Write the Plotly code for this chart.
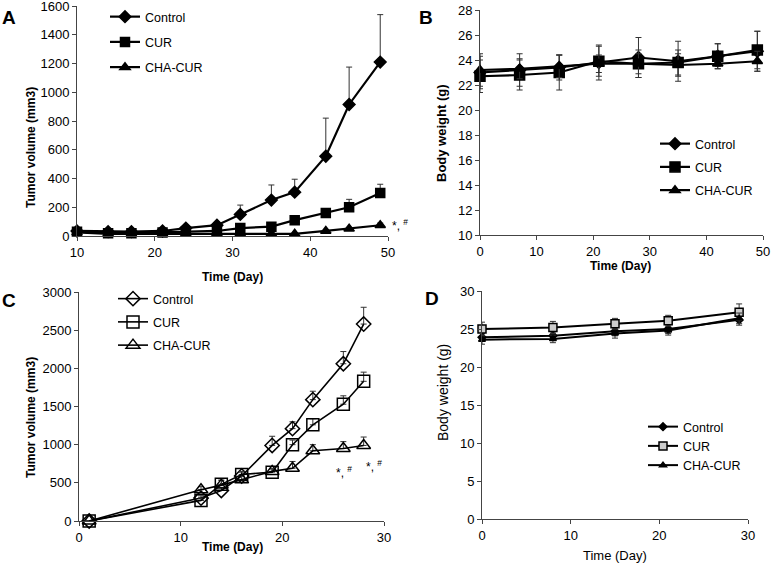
import plotly.graph_objects as go

W, H = 771, 564
series_names = ["Control", "CUR", "CHA-CUR"]

# Panel A: tumor volume
a_days = [10, 14, 17, 21, 24, 28, 31, 35, 38, 42, 45, 49]
a_control = [35, 30, 30, 35, 55, 75, 150, 250, 305, 555, 915, 1210]
a_control_err = [5, 5, 5, 5, 10, 15, 65, 105, 90, 265, 260, 330]
a_cur = [30, 20, 20, 25, 30, 35, 55, 65, 110, 160, 200, 300]
a_cur_err = [3, 3, 3, 3, 5, 5, 8, 10, 15, 20, 55, 60]
a_cha = [25, 15, 15, 15, 15, 15, 15, 15, 15, 35, 50, 75]
a_cha_err = [2, 2, 2, 2, 2, 2, 2, 2, 3, 5, 8, 15]

# Panel B: body weight
b_days = [0, 7, 14, 21, 28, 35, 42, 49]
b_control = [23.0, 23.2, 23.4, 23.8, 24.2, 23.9, 24.3, 24.7]
b_control_err = [1.3, 1.3, 1.0, 1.4, 1.6, 1.6, 1.0, 1.6]
b_cur = [22.7, 22.8, 23.0, 23.9, 23.7, 23.8, 24.3, 24.8]
b_cur_err = [1.3, 1.2, 1.4, 1.2, 1.1, 1.0, 1.0, 1.5]
b_cha = [23.2, 23.3, 23.5, 23.7, 23.7, 23.6, 23.7, 23.9]
b_cha_err = [1.3, 0.8, 0.9, 0.7, 0.8, 0.9, 0.2, 0.8]

# Panel C: tumor volume
c_days = [1, 12, 14, 16, 19, 21, 23, 26, 28]
c_control = [0, 300, 400, 590, 990, 1210, 1590, 2060, 2580]
c_control_err = [0, 30, 40, 50, 120, 90, 110, 160, 220]
c_cur = [0, 270, 480, 610, 640, 1000, 1260, 1530, 1830]
c_cur_err = [0, 30, 70, 40, 40, 60, 80, 110, 120]
c_cha = [0, 410, 470, 540, 650, 690, 920, 950, 990]
c_cha_err = [0, 40, 60, 50, 40, 90, 80, 90, 110]

# Panel D: body weight
d_days = [0, 8, 15, 21, 29]
d_control = [23.9, 24.1, 24.7, 25.0, 26.2]
d_control_err = [0.5, 0.5, 0.6, 0.6, 0.7]
d_cur = [25.0, 25.2, 25.7, 26.1, 27.2]
d_cur_err = [0.9, 0.8, 0.7, 0.7, 1.1]
d_cha = [23.6, 23.7, 24.4, 24.8, 26.4]
d_cha_err = [0.6, 0.5, 0.6, 0.6, 0.7]

FONT = "Liberation Sans, Arial, sans-serif"


def px_x(p):
    return p / W


def px_y(p):
    return 1 - p / H


fig = go.Figure()


def add(x, y, err, name, sym, size, xa, ya, leg, sym_err=False, lw=2.2, errcol="#333333", mcol="black"):
    ey = dict(type="data", array=err, color=errcol, thickness=1, width=3, visible=True)
    if sym_err:
        ey["symmetric"] = True
    else:
        ey["symmetric"] = False
        ey["arrayminus"] = [0] * len(err)
    fig.add_trace(go.Scatter(
        x=x, y=y, name=name, mode="lines+markers",
        line=dict(color="black", width=lw),
        marker=dict(symbol=sym, size=size, color=mcol,
                    line=dict(color="black", width=1.5)),
        error_y=ey, xaxis=xa, yaxis=ya, legend=leg, legendgroup=leg + name,
        cliponaxis=False,
    ))


# A
add(a_days, a_control, a_control_err, "Control", "diamond", 9, "x", "y", "legend")
add(a_days, a_cur, a_cur_err, "CUR", "square", 9, "x", "y", "legend")
add(a_days, a_cha, a_cha_err, "CHA-CUR", "triangle-up", 9, "x", "y", "legend")
# B
add(b_days, b_control, b_control_err, "Control", "diamond", 9, "x2", "y2", "legend2", sym_err=True)
add(b_days, b_cur, b_cur_err, "CUR", "square", 10, "x2", "y2", "legend2", sym_err=True)
add(b_days, b_cha, b_cha_err, "CHA-CUR", "triangle-up", 9, "x2", "y2", "legend2", sym_err=True)
# C
add(c_days, c_control, c_control_err, "Control", "diamond-open", 11, "x3", "y3", "legend3", lw=1.6)
add(c_days, c_cur, c_cur_err, "CUR", "square-open", 12, "x3", "y3", "legend3", lw=1.6)
add(c_days, c_cha, c_cha_err, "CHA-CUR", "triangle-up-open", 12, "x3", "y3", "legend3", lw=1.6)
# D
add(d_days, d_control, d_control_err, "Control", "diamond", 6, "x4", "y4", "legend4", sym_err=True, lw=2)
add(d_days, d_cur, d_cur_err, "CUR", "square", 8, "x4", "y4", "legend4", sym_err=True, lw=2, mcol="#cccccc")
add(d_days, d_cha, d_cha_err, "CHA-CUR", "triangle-up", 6, "x4", "y4", "legend4", sym_err=True, lw=2)


def axis(dom, rng, dtick, anchor, fsize=13):
    return dict(domain=dom, range=rng, dtick=dtick, anchor=anchor, showgrid=False, zeroline=False,
                showline=True, linecolor="#444444", linewidth=1, ticks="outside", ticklen=4,
                tickcolor="#444444", automargin=False, ticklabeloverflow="allow",
                tickfont=dict(family=FONT, size=fsize, color="black"))


def legend(xp, yp, gap, fsize=12.5):
    return dict(x=px_x(xp), y=px_y(yp), xanchor="left", yanchor="top", bgcolor="rgba(0,0,0,0)",
                font=dict(family=FONT, size=fsize, color="black"), traceorder="grouped",
                tracegroupgap=gap, itemwidth=30)


fig.update_layout(
    width=W, height=H, margin=dict(l=0, r=0, t=0, b=0, autoexpand=False),
    paper_bgcolor="white", plot_bgcolor="white", showlegend=True,
    xaxis=axis([px_x(77), px_x(388)], [10, 50], 10, "y"),
    yaxis=axis([px_y(236), px_y(6)], [0, 1600], 200, "x"),
    xaxis2=axis([px_x(480), px_x(763)], [0, 50], 10, "y2"),
    yaxis2=axis([px_y(235), px_y(10)], [10, 28], 2, "x2"),
    xaxis3=axis([px_x(79), px_x(384)], [0, 30], 10, "y3"),
    yaxis3=axis([px_y(521), px_y(292)], [0, 3000], 500, "x3"),
    xaxis4=axis([px_x(482), px_x(748)], [0, 30], 10, "y4"),
    yaxis4=axis([px_y(519), px_y(291)], [0, 30], 5, "x4"),
    legend=legend(105, 2, 6),
    legend2=legend(655, 129, 4),
    legend3=legend(113, 284, 4),
    legend4=legend(643, 412, 0),
)

# panel letters
for txt, xp, yp in [("A", 9, 18), ("B", 426, 18), ("C", 9, 300), ("D", 432, 298)]:
    fig.add_annotation(text="<b>%s</b>" % txt, xref="paper", yref="paper", x=px_x(xp), y=px_y(yp),
                       xanchor="center", yanchor="middle", showarrow=False,
                       font=dict(family=FONT, size=19, color="black"))

# axis titles
titles = [
    ("<b>Time (Day)</b>", 233, 277, 0, 12),
    ("<b>Tumor volume (mm3)</b>", 31, 148, -90, 12),
    ("<b>Time (Day)</b>", 620, 266, 0, 12),
    ("<b>Body weight (g)</b>", 441, 133, -90, 13),
    ("<b>Time (Day)</b>", 233, 547, 0, 12),
    ("<b>Tumor volume (mm3)</b>", 31, 418, -90, 12),
    ("Time (Day)", 615, 555, 0, 13),
    ("Body weight (g)", 443, 392, -90, 14),
]
for txt, xp, yp, ang, fs in titles:
    fig.add_annotation(text=txt, xref="paper", yref="paper", x=px_x(xp), y=px_y(yp),
                       xanchor="center", yanchor="middle", textangle=ang, showarrow=False,
                       font=dict(family=FONT, size=fs, color="black"))

# significance marks
sig = [
    dict(x=px_x(390), y=px_y(225), xref="paper", yref="paper"),
    dict(x=25.1, y=640, xref="x3", yref="y3"),
    dict(x=28.0, y=720, xref="x3", yref="y3"),
]
for s in sig:
    fig.add_annotation(text="*, <sup>#</sup>", showarrow=False, xanchor="left",
                       font=dict(family=FONT, size=12, color="black"), **s)

fig.write_html(
    "out.html",
    config={"displayModeBar": False},
    post_script="document.body.style.margin='0';document.body.style.overflow='hidden';",
)
